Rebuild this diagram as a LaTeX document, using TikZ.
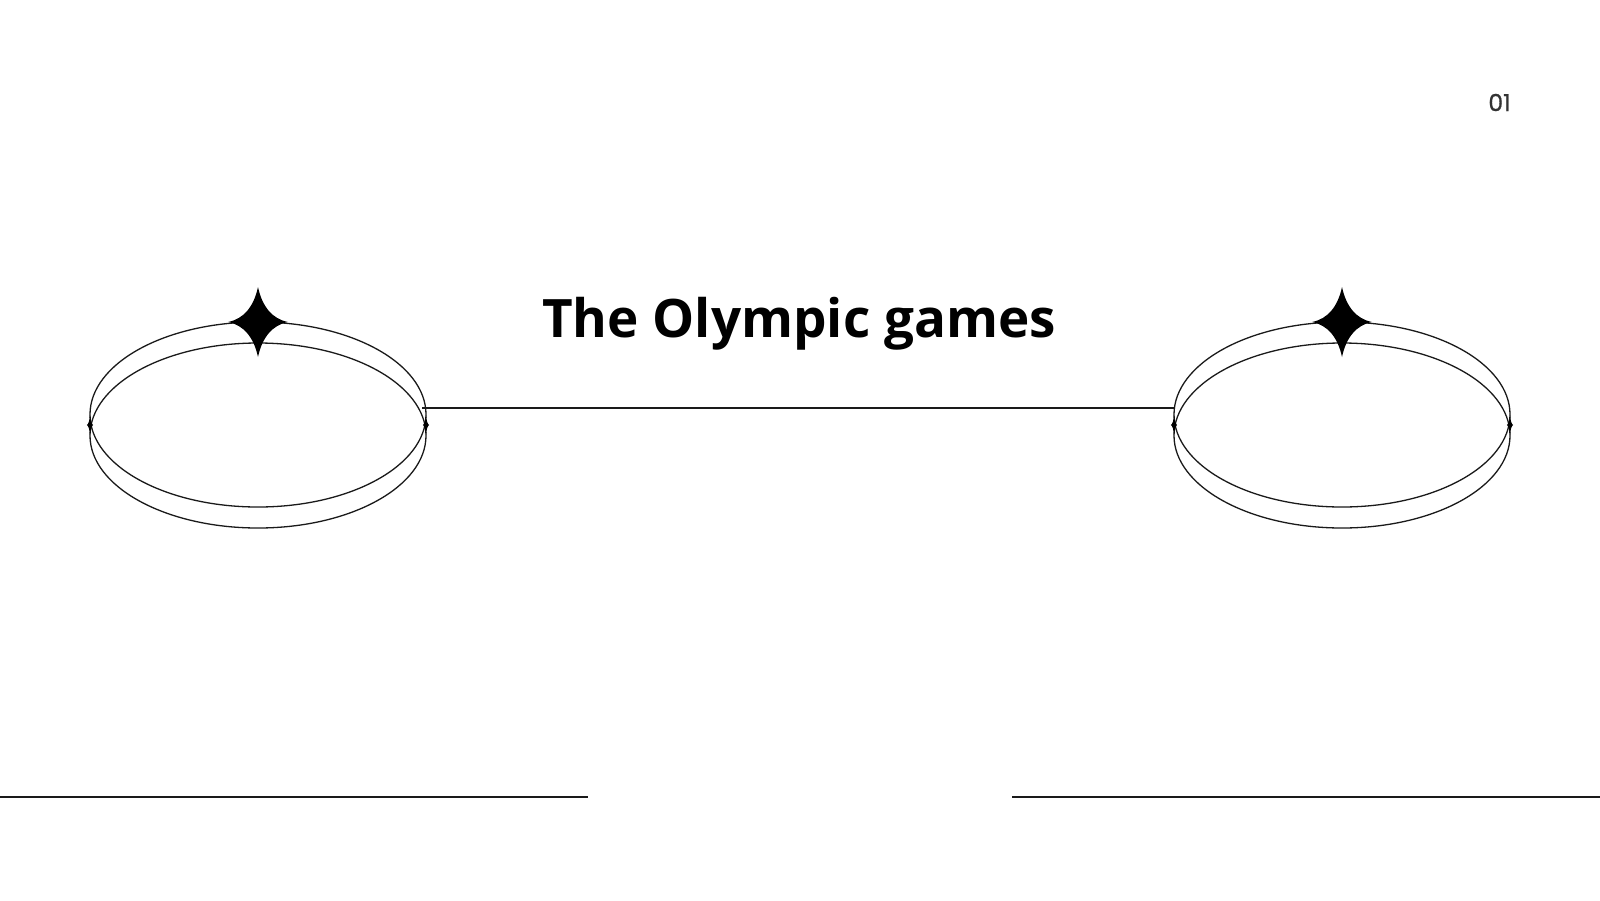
\documentclass[tikz,border=0pt]{standalone}
\usepackage{fontspec}
\setmainfont{Open Sans}
\newfontfamily\numfont[FakeBold=0.8]{Poppins}
\usetikzlibrary{shapes.geometric}
\definecolor{ink}{HTML}{1A1A1A}
\definecolor{numgray}{HTML}{333333}
\tikzset{
  ring/.style={draw=ink, line width=1.3pt, ellipse, inner sep=0pt, outer sep=0pt,
    minimum width=336pt, minimum height=185pt},
  rule/.style={draw=ink, line width=1.8pt},
  link/.style={draw=ink, line width=1.4pt},
  sparkle/.pic={\fill[black] (0,-35) .. controls (4,-16) and (14,-3) .. (30,0)
      .. controls (14,3) and (4,16) .. (0,35)
      .. controls (-4,16) and (-14,3) .. (-30,0)
      .. controls (-14,-3) and (-4,-16) .. cycle;},
  cusp/.pic={\fill[black] (0,-10) .. controls (0.5,-4) and (1.5,-1) .. (3.2,0)
      .. controls (1.5,1) and (0.5,4) .. (0,10)
      .. controls (-0.5,4) and (-1.5,1) .. (-3.2,0)
      .. controls (-1.5,-1) and (-0.5,-4) .. cycle;},
}
\begin{document}
\begin{tikzpicture}[x=1pt,y=-1pt]
\fill[white] (0,0) rectangle (1600,900);
\useasboundingbox (0,0) rectangle (1600,900);

% left rings
\node[ring] (ringLtop) at (258,414.5) {};
\node[ring] (ringLbot) at (258,435.5) {};
% right rings
\node[ring] (ringRtop) at (1342,414.5) {};
\node[ring] (ringRbot) at (1342,435.5) {};

% connector
\draw[link] ([xshift=-4pt,yshift=6.5pt]ringLtop.east) -- ([xshift=1pt,yshift=6.5pt]ringRtop.west);

% sparkles
\pic at (258,322) {sparkle};
\pic at (1342,322) {sparkle};
\pic at (90,425) {cusp};
\pic at (426,425) {cusp};
\pic at (1174,425) {cusp};
\pic at (1510,425) {cusp};

% title
\node[anchor=base, inner sep=0pt, font=\fontsize{53}{60}\selectfont\bfseries] (title) at (799,337) {The Olympic games};

% page number
\node[anchor=center, inner sep=0pt, text=numgray, font=\numfont\fontsize{23.5}{28}\selectfont] (pagenum) at (1499.5,102.5) {01};

% bottom rules
\coordinate (ruleLa) at (0,797);
\coordinate (ruleLb) at (588,797);
\coordinate (ruleRa) at (1012,797);
\coordinate (ruleRb) at (1600,797);
\draw[rule] (ruleLa) -- (ruleLb);
\draw[rule] (ruleRa) -- (ruleRb);
\end{tikzpicture}
\end{document}
